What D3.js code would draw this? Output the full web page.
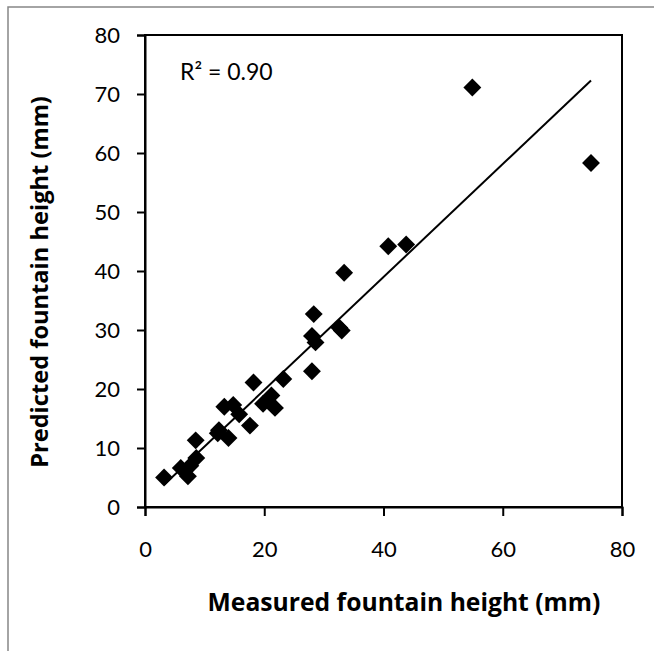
<!DOCTYPE html>
<html><head><meta charset="utf-8">
<script src="https://cdn.jsdelivr.net/npm/d3@7"></script>
<style>html,body{margin:0;padding:0;background:#fff;}svg{display:block;}</style>
</head><body>
<script>
// ---- data ----
const measured  = [3.2, 6.0, 7.2, 7.6, 8.6, 8.5, 12.2, 12.4, 14.0, 13.3, 14.8, 15.8, 17.6, 18.2, 19.8, 21.2, 21.8, 23.2, 28.0, 28.0, 28.6, 28.3, 32.6, 33.0, 33.4, 40.8, 43.8, 54.9, 74.8];
const predicted = [5.0, 6.6, 5.2, 7.0, 8.3, 11.3, 12.5, 13.0, 11.7, 17.0, 17.3, 15.7, 13.8, 21.1, 17.5, 18.9, 16.8, 21.7, 23.0, 29.0, 27.9, 32.7, 30.4, 29.9, 39.7, 44.2, 44.5, 71.1, 58.3];
const xTicks = [0, 20, 40, 60, 80];
const yTicks = [0, 10, 20, 30, 40, 50, 60, 70, 80];
const trendSlope = 0.957, trendIntercept = 0.7;
const r2Label = "R² = 0.90";
const xTitle = "Measured fountain height (mm)";
const yTitle = "Predicted fountain height (mm)";

const W = 654, H = 651;
const font = "Lato, 'Open Sans', sans-serif";
const titleFont = "'Open Sans', Lato, sans-serif";
const svg = d3.select("body").append("svg").attr("width", W).attr("height", H);

// outer chart-area border
svg.append("rect").attr("x", 8).attr("y", 7).attr("width", 720).attr("height", 720)
  .attr("fill", "none").attr("stroke", "#878787").attr("stroke-width", 1.5);

const x = d3.scaleLinear().domain([0, 80]).range([145, 622]);
const y = d3.scaleLinear().domain([0, 80]).range([507, 35]);

// plot box
svg.append("rect").attr("x", x(0)).attr("y", y(80)).attr("width", x(80) - x(0)).attr("height", y(0) - y(80))
  .attr("fill", "none").attr("stroke", "#000").attr("stroke-width", 2);

const xAxis = svg.append("g").attr("transform", `translate(0,${y(0)})`)
  .call(d3.axisBottom(x).tickValues(xTicks).tickSize(9).tickPadding(25).tickFormat(d3.format("d")));
const yAxis = svg.append("g").attr("transform", `translate(${x(0)},0)`)
  .call(d3.axisLeft(y).tickValues(yTicks).tickSize(8).tickPadding(17).tickFormat(d3.format("d")));
[xAxis, yAxis].forEach(g => {
  g.select(".domain").attr("stroke", "#000").attr("stroke-width", 2);
  g.selectAll(".tick line").attr("stroke", "#000").attr("stroke-width", 2);
  g.selectAll(".tick text").attr("fill", "#000").style("font-family", font).style("font-size", "22px");
});

// trendline
const xmin = d3.min(measured), xmax = d3.max(measured);
svg.append("line")
  .attr("x1", x(xmin)).attr("y1", y(trendSlope * xmin + trendIntercept))
  .attr("x2", x(xmax)).attr("y2", y(trendSlope * xmax + trendIntercept))
  .attr("stroke", "#000").attr("stroke-width", 2);

// points
const pts = measured.map((m, i) => ({m, p: predicted[i]}));
const sym = d3.symbol().type(d3.symbolSquare).size(160);
svg.append("g").selectAll("path").data(pts).join("path")
  .attr("d", sym)
  .attr("transform", d => `translate(${x(d.m)},${y(d.p)}) rotate(45)`)
  .attr("fill", "#000");

// R2 label
svg.append("text").attr("x", 180).attr("y", 80).text(r2Label)
  .style("font-family", font).style("font-size", "23px").attr("fill", "#000");

// axis titles (fit to measured widths)
function fit(sel, target) {
  const len = sel.node().getComputedTextLength();
  const fs = parseFloat(sel.style("font-size"));
  sel.style("font-size", (fs * target / len) + "px");
}
const xt = svg.append("text").attr("x", 404).attr("y", 611).attr("text-anchor", "middle").text(xTitle)
  .style("font-family", titleFont).style("font-size", "22px").style("font-weight", "bold").attr("fill", "#000");
fit(xt, 393);
const yt = svg.append("text").attr("transform", "translate(48,282) rotate(-90)").attr("text-anchor", "middle").text(yTitle)
  .style("font-family", titleFont).style("font-size", "22px").style("font-weight", "bold").attr("fill", "#000");
fit(yt, 372);
</script>
</body></html>
